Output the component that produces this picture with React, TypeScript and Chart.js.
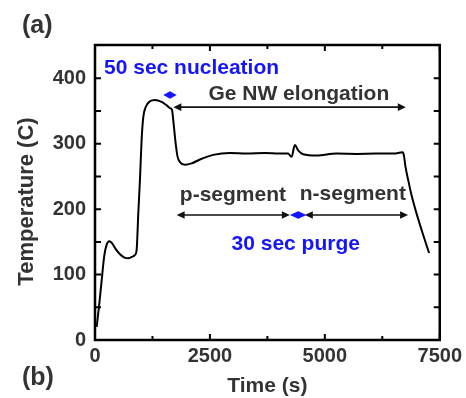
import React, { useEffect, useRef } from "react";
import { Chart, registerables } from "chart.js";
Chart.register(...registerables);

// Time (s) and temperature (C)
const timeS = [37, 100, 146, 200, 250, 311, 370, 440, 543, 640, 724, 800, 870, 906, 942, 978, 1014, 1051, 1109, 1196, 1304, 1449, 1572, 1645, 1674, 1717, 1754, 1797, 1848, 1957, 2102, 2283, 2572, 2935, 3300, 3700, 4000, 4200, 4276, 4348, 4420, 4529, 4819, 5254, 5700, 6100, 6500, 6689, 6718, 6754, 6812, 6884, 6993, 7138, 7268];
const tempC = [20, 60, 92, 128, 145, 151, 148, 140, 131, 126, 125, 127, 130, 138, 194, 245, 306, 341, 357, 365, 367, 364, 358, 354, 352, 326, 301, 280, 272, 268, 270, 276, 283, 286, 285, 286, 285, 285, 280, 298, 290, 284, 282, 285, 284.5, 285, 285, 287, 283, 265, 245, 222, 194, 161, 133];

const xTickValues = [0, 2500, 5000, 7500];
const xMinorValues = [1250, 3750, 6250];
const yTickValues = [0, 100, 200, 300, 400];
const yMinorValues = [50, 150, 250, 350];

// Double arrows: [from time, to time, temperature, colour, draw shaft]
const arrowStart = [1703, 1776, 4565, 1486, 4239];
const arrowEnd = [6761, 4239, 6811, 1776, 4602];
const arrowLevel = [356, 191, 191, 374.6, 191];
const arrowColor = ["#111111", "#111111", "#111111", "#1414ff", "#1414ff"];
const arrowShaft = [true, true, true, false, false];

// Annotation texts
const noteText = ["50 sec nucleation", "Ge NW elongation", "p-segment", "n-segment", "30 sec purge"];
const noteTime = [196, 4435, 3000, 5609, 4367];
const noteTemp = [407, 367, 213, 214, 137.6];
const noteAlign = ["left", "center", "center", "center", "center"];
const noteColor = ["#1414ff", "#333333", "#333333", "#333333", "#1414ff"];

const FONT = "'Liberation Sans', Arial, sans-serif";

const overlay = {
  id: "overlay",
  afterDraw(chart: any) {
    const { ctx, chartArea: a, scales } = chart;
    const xs = scales.x;
    const ys = scales.y;
    ctx.save();
    // frame
    ctx.strokeStyle = "#000";
    ctx.lineWidth = 2.5;
    ctx.strokeRect(a.left, a.top, a.right - a.left, a.bottom - a.top);
    // ticks (inward, all sides)
    ctx.lineWidth = 2;
    const xt = (v: number, len: number) => {
      const px = xs.getPixelForValue(v);
      ctx.beginPath();
      ctx.moveTo(px, a.bottom);
      ctx.lineTo(px, a.bottom - len);
      ctx.moveTo(px, a.top);
      ctx.lineTo(px, a.top + len);
      ctx.stroke();
    };
    const yt = (v: number, len: number) => {
      const py = ys.getPixelForValue(v);
      ctx.beginPath();
      ctx.moveTo(a.left, py);
      ctx.lineTo(a.left + len, py);
      ctx.moveTo(a.right, py);
      ctx.lineTo(a.right - len, py);
      ctx.stroke();
    };
    xTickValues.forEach((v) => xt(v, 6));
    xMinorValues.forEach((v) => xt(v, 4));
    yTickValues.forEach((v) => yt(v, 6));
    yMinorValues.forEach((v) => yt(v, 6));

    // arrows
    const head = (tipX: number, y: number, dir: number, color: string) => {
      ctx.fillStyle = color;
      ctx.beginPath();
      ctx.moveTo(tipX, y);
      ctx.lineTo(tipX + dir * 8, y - 3.8);
      ctx.lineTo(tipX + dir * 8, y + 3.8);
      ctx.closePath();
      ctx.fill();
    };
    arrowStart.forEach((s, i) => {
      const x1 = xs.getPixelForValue(s);
      const x2 = xs.getPixelForValue(arrowEnd[i]);
      const y = ys.getPixelForValue(arrowLevel[i]);
      const c = arrowColor[i];
      if (arrowShaft[i]) {
        ctx.strokeStyle = c;
        ctx.lineWidth = 1.6;
        ctx.beginPath();
        ctx.moveTo(x1 + 4, y);
        ctx.lineTo(x2 - 4, y);
        ctx.stroke();
        head(x1, y, 1, c);
        head(x2, y, -1, c);
      } else {
        const mid = (x1 + x2) / 2;
        ctx.fillStyle = c;
        ctx.beginPath();
        ctx.moveTo(x1, y);
        ctx.lineTo(mid, y - 3.8);
        ctx.lineTo(x2, y);
        ctx.lineTo(mid, y + 3.8);
        ctx.closePath();
        ctx.fill();
      }
    });

    // annotation texts
    ctx.font = `bold 21px ${FONT}`;
    ctx.textBaseline = "alphabetic";
    noteText.forEach((t, i) => {
      ctx.fillStyle = noteColor[i];
      ctx.textAlign = noteAlign[i] as CanvasTextAlign;
      ctx.fillText(t, xs.getPixelForValue(noteTime[i]), ys.getPixelForValue(noteTemp[i]));
    });

    // axis titles and panel labels
    ctx.fillStyle = "#333333";
    ctx.textAlign = "center";
    ctx.font = `bold 21px ${FONT}`;
    ctx.fillText("Time (s)", (a.left + a.right) / 2, 392);
    ctx.save();
    ctx.translate(33, 201.5);
    ctx.rotate(-Math.PI / 2);
    ctx.font = `bold 22px ${FONT}`;
    ctx.fillText("Temperature (C)", 0, 0);
    ctx.restore();
    ctx.textAlign = "left";
    ctx.font = `bold 25px ${FONT}`;
    ctx.fillText("(a)", 22, 33);
    ctx.fillText("(b)", 22, 385);
    ctx.restore();
  },
};

export default function App() {
  const ref = useRef<HTMLCanvasElement | null>(null);
  useEffect(() => {
    document.body.style.margin = "0";
    const canvas = ref.current;
    if (!canvas) return;
    const tickFont = { family: FONT, size: 20, weight: "bold" as const };
    const chart = new Chart(canvas, {
      type: "line",
      data: {
        datasets: [
          {
            data: timeS.map((t, i) => ({ x: t, y: tempC[i] })),
            borderColor: "#000",
            borderWidth: 2,
            pointRadius: 0,
            cubicInterpolationMode: "monotone",
            fill: false,
          },
        ],
      },
      options: {
        responsive: false,
        animation: false,
        layout: { padding: { top: 45, right: 26, left: 0, bottom: 0 } },
        plugins: { legend: { display: false }, tooltip: { enabled: false } },
        scales: {
          x: {
            type: "linear",
            min: 0,
            max: 7500,
            afterFit: (s: any) => {
              s.height = 58;
            },
            afterBuildTicks: (s: any) => {
              s.ticks = xTickValues.map((v) => ({ value: v }));
            },
            ticks: {
              font: tickFont,
              color: "#333333",
              padding: 4,
              maxRotation: 0,
              autoSkip: false,
              callback: (v: any) => String(v),
            },
            grid: { display: false, drawTicks: false },
            border: { display: false },
          },
          y: {
            type: "linear",
            min: 0,
            max: 451,
            afterFit: (s: any) => {
              s.width = 95;
            },
            afterBuildTicks: (s: any) => {
              s.ticks = yTickValues.map((v) => ({ value: v }));
            },
            ticks: {
              font: tickFont,
              color: "#333333",
              padding: 9,
              autoSkip: false,
              callback: (v: any) => String(v),
            },
            grid: { display: false, drawTicks: false },
            border: { display: false },
          },
        },
      },
      plugins: [overlay],
    });
    return () => chart.destroy();
  }, []);
  return (
    <div style={{ width: 466, height: 398, background: "#fff" }}>
      <canvas ref={ref} width={466} height={398} />
    </div>
  );
}
